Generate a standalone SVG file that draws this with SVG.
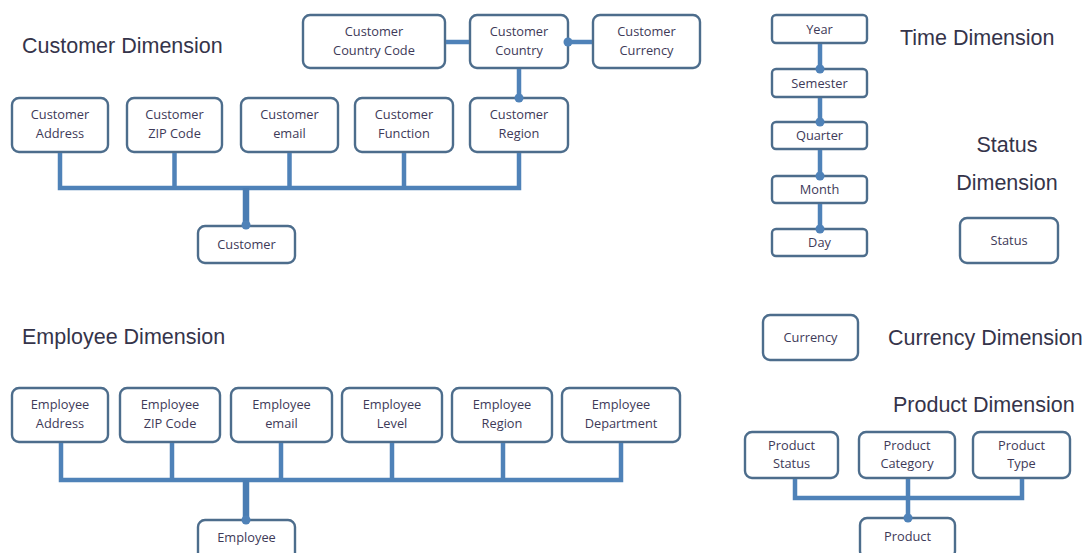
<svg xmlns="http://www.w3.org/2000/svg" width="1085" height="553" viewBox="0 0 1085 553">
<style>
.bg{fill:#ffffff}
.box{fill:#ffffff;stroke:#4d6d8c;stroke-width:2.4}
.t{font-family:"Open Sans","Liberation Sans",sans-serif;font-size:12.8px;fill:#3e3a58;text-anchor:middle}
.title{font-family:"Liberation Sans",Arial,sans-serif;font-size:21.5px;fill:#35344a}
.mid{text-anchor:middle}
.c{fill:none;stroke:#4f82b8;stroke-width:4.5;stroke-linejoin:miter}
.drop{fill:none;stroke:#4a7db3;stroke-width:6.5}
.dot{fill:#4f82b8}
</style>
<rect class="bg" x="0" y="0" width="1085" height="553"/>

<text class="title" x="22" y="53">Customer Dimension</text>
<text class="title" x="900" y="45">Time Dimension</text>
<text class="title mid" x="1007" y="152">Status</text>
<text class="title mid" x="1007" y="190">Dimension</text>
<text class="title" x="22" y="344">Employee Dimension</text>
<text class="title" x="888" y="345">Currency Dimension</text>
<text class="title" x="893" y="412">Product Dimension</text>

<!-- Customer dimension -->
<g id="cust-address"><rect class="box" x="12" y="98" width="96" height="54" rx="7"/><text class="t" x="60" y="119">Customer</text><text class="t" x="60" y="138">Address</text></g>
<g id="cust-zip"><rect class="box" x="127" y="98" width="95" height="54" rx="7"/><text class="t" x="174.5" y="119">Customer</text><text class="t" x="174.5" y="138">ZIP Code</text></g>
<g id="cust-email"><rect class="box" x="241" y="98" width="97" height="54" rx="7"/><text class="t" x="289.5" y="119">Customer</text><text class="t" x="289.5" y="138">email</text></g>
<g id="cust-function"><rect class="box" x="355" y="98" width="98" height="54" rx="7"/><text class="t" x="404" y="119">Customer</text><text class="t" x="404" y="138">Function</text></g>
<g id="cust-region"><rect class="box" x="470" y="98" width="98" height="54" rx="7"/><text class="t" x="519" y="119">Customer</text><text class="t" x="519" y="138">Region</text></g>
<g id="cust-country-code"><rect class="box" x="303" y="15" width="142" height="53" rx="7"/><text class="t" x="374" y="36">Customer</text><text class="t" x="374" y="55">Country Code</text></g>
<g id="cust-country"><rect class="box" x="470" y="15" width="98" height="53" rx="7"/><text class="t" x="519" y="36">Customer</text><text class="t" x="519" y="55">Country</text></g>
<g id="cust-currency"><rect class="box" x="593" y="15" width="107" height="53" rx="7"/><text class="t" x="646.5" y="36">Customer</text><text class="t" x="646.5" y="55">Currency</text></g>
<g id="customer"><rect class="box" x="198" y="226" width="97" height="37" rx="7"/><text class="t" x="246.5" y="249">Customer</text></g>

<!-- Time dimension -->
<g id="year"><rect class="box" x="772" y="15" width="95" height="28" rx="4"/><text class="t" x="819.5" y="33.5">Year</text></g>
<g id="semester"><rect class="box" x="772" y="69" width="95" height="28" rx="4"/><text class="t" x="819.5" y="87.5">Semester</text></g>
<g id="quarter"><rect class="box" x="772" y="122" width="95" height="27" rx="4"/><text class="t" x="819.5" y="140">Quarter</text></g>
<g id="month"><rect class="box" x="772" y="176" width="95" height="27" rx="4"/><text class="t" x="819.5" y="194">Month</text></g>
<g id="day"><rect class="box" x="772" y="229" width="95" height="27" rx="4"/><text class="t" x="819.5" y="247">Day</text></g>

<!-- Status -->
<g id="status"><rect class="box" x="960" y="218" width="98" height="45" rx="7"/><text class="t" x="1009" y="245">Status</text></g>

<!-- Currency -->
<g id="currency"><rect class="box" x="763" y="315" width="95" height="45" rx="7"/><text class="t" x="810.5" y="342">Currency</text></g>

<!-- Employee dimension -->
<g id="emp-address"><rect class="box" x="12" y="388" width="96" height="54" rx="7"/><text class="t" x="60" y="409">Employee</text><text class="t" x="60" y="428">Address</text></g>
<g id="emp-zip"><rect class="box" x="120" y="388" width="100" height="54" rx="7"/><text class="t" x="170" y="409">Employee</text><text class="t" x="170" y="428">ZIP Code</text></g>
<g id="emp-email"><rect class="box" x="231" y="388" width="101" height="54" rx="7"/><text class="t" x="281.5" y="409">Employee</text><text class="t" x="281.5" y="428">email</text></g>
<g id="emp-level"><rect class="box" x="342" y="388" width="100" height="54" rx="7"/><text class="t" x="392" y="409">Employee</text><text class="t" x="392" y="428">Level</text></g>
<g id="emp-region"><rect class="box" x="452" y="388" width="100" height="54" rx="7"/><text class="t" x="502" y="409">Employee</text><text class="t" x="502" y="428">Region</text></g>
<g id="emp-department"><rect class="box" x="562" y="388" width="118" height="54" rx="7"/><text class="t" x="621" y="409">Employee</text><text class="t" x="621" y="428">Department</text></g>
<g id="employee"><rect class="box" x="198" y="520" width="97" height="40" rx="7"/><text class="t" x="246.5" y="542">Employee</text></g>

<!-- Product dimension -->
<g id="prod-status"><rect class="box" x="745" y="432" width="93" height="46" rx="7"/><text class="t" x="791.5" y="450">Product</text><text class="t" x="791.5" y="468">Status</text></g>
<g id="prod-category"><rect class="box" x="859" y="432" width="96" height="46" rx="7"/><text class="t" x="907" y="450">Product</text><text class="t" x="907" y="468">Category</text></g>
<g id="prod-type"><rect class="box" x="973" y="432" width="97" height="46" rx="7"/><text class="t" x="1021.5" y="450">Product</text><text class="t" x="1021.5" y="468">Type</text></g>
<g id="product"><rect class="box" x="860" y="518" width="95" height="40" rx="7"/><text class="t" x="907.5" y="541">Product</text></g>

<g id="connectors">
  <!-- customer bus -->
  <polyline class="c" points="60,153 60,188 519,188 519,153"/>
  <line class="c" x1="174.5" y1="153" x2="174.5" y2="188"/>
  <line class="c" x1="289.5" y1="153" x2="289.5" y2="188"/>
  <line class="c" x1="404" y1="153" x2="404" y2="188"/>
  <line class="drop" x1="246" y1="188" x2="246" y2="225"/>
  <circle class="dot" cx="246" cy="225" r="4.5"/>
  <line class="c" x1="446" y1="42" x2="469" y2="42"/>
  <line class="c" x1="568" y1="42" x2="592" y2="42"/>
  <circle class="dot" cx="568" cy="42" r="4.5"/>
  <line class="c" x1="519" y1="69" x2="519" y2="98"/>
  <circle class="dot" cx="519" cy="98" r="4.5"/>
  <!-- time -->
  <line class="c" x1="820" y1="44" x2="820" y2="68"/>
  <line class="c" x1="820" y1="98" x2="820" y2="121"/>
  <line class="c" x1="820" y1="150" x2="820" y2="175"/>
  <line class="c" x1="820" y1="204" x2="820" y2="228"/>
  <circle class="dot" cx="820" cy="69" r="4.5"/>
  <circle class="dot" cx="820" cy="122" r="4.5"/>
  <circle class="dot" cx="820" cy="176" r="4.5"/>
  <circle class="dot" cx="820" cy="229" r="4.5"/>
  <!-- employee bus -->
  <polyline class="c" points="61,443 61,480 621,480 621,443"/>
  <line class="c" x1="172" y1="443" x2="172" y2="480"/>
  <line class="c" x1="281" y1="443" x2="281" y2="480"/>
  <line class="c" x1="392" y1="443" x2="392" y2="480"/>
  <line class="c" x1="503" y1="443" x2="503" y2="480"/>
  <line class="drop" x1="246" y1="480" x2="246" y2="520"/>
  <circle class="dot" cx="246" cy="520" r="4.5"/>
  <!-- product bus -->
  <polyline class="c" points="795,479 795,498 1022,498 1022,479"/>
  <line class="c" x1="908" y1="479" x2="908" y2="518"/>
  <circle class="dot" cx="908" cy="518" r="4.5"/>
</g>
</svg>
